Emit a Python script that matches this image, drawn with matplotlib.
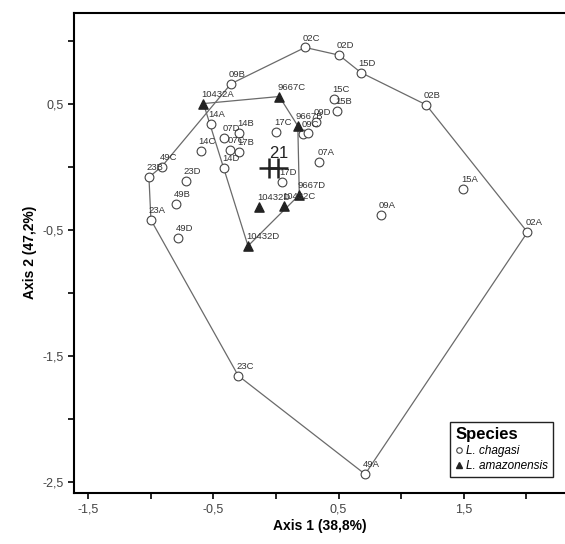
import matplotlib
matplotlib.use("Agg")
import matplotlib.pyplot as plt
import matplotlib.ticker as ticker
from matplotlib.lines import Line2D

plt.rcParams['font.family'] = ['Liberation Sans', 'DejaVu Sans']

# L. chagasi samples (axis 1, axis 2)
chag_names = ['02C', '02D', '15D', '02B', '02A', '49A', '23C', '23A', '23B', '49C',
              '09B', '15C', '15B', '09D', '09C', '', '17C', '14A', '07D', '14B',
              '07C', '17B', '14C', '14D', '07A', '17D', '23D', '49B', '49D', '09A', '15A']
chag_x = [0.232, 0.504, 0.678, 1.20, 2.01, 0.712, -0.302, -1.0, -1.016, -0.914,
          -0.36, 0.464, 0.488, 0.32, 0.218, 0.258, 0.0, -0.522, -0.414, -0.294,
          -0.368, -0.294, -0.602, -0.414, 0.346, 0.046, -0.722, -0.80, -0.782, 0.84, 1.498]
chag_y = [0.947, 0.886, 0.748, 0.492, -0.518, -2.437, -1.656, -0.421, -0.082, 0.002,
          0.659, 0.536, 0.444, 0.357, 0.26, 0.267, 0.275, 0.341, 0.228, 0.267,
          0.135, 0.121, 0.127, -0.01, 0.042, -0.117, -0.109, -0.294, -0.566, -0.381, -0.177]
chag_hull = ['02C', '02D', '15D', '02B', '02A', '49A', '23C', '23A', '23B', '49C', '09B']

# L. amazonensis samples
amaz_names = ['10432A', '9667C', '9667B', '9667D', '10432C', '10432D', '10432D']
amaz_x = [-0.58, 0.026, 0.174, 0.186, 0.066, -0.134, -0.224]
amaz_y = [0.502, 0.558, 0.325, -0.222, -0.31, -0.315, -0.627]
amaz_hull = [0, 1, 2, 3, 6]

# group centroids
cent_names = ['2', '1']
cent_x = [-0.054, 0.018]
cent_y = [-0.01, -0.01]

fig = plt.figure(figsize=(5.65, 5.44), dpi=100)
ax = fig.add_axes([0.131, 0.094, 0.869, 0.883])

# hulls
hx = [chag_x[chag_names.index(n)] for n in chag_hull]
hy = [chag_y[chag_names.index(n)] for n in chag_hull]
ax.plot(hx + hx[:1], hy + hy[:1], color='#6a6a6a', lw=0.9, zorder=1)
ax_ = [amaz_x[i] for i in amaz_hull]
ay_ = [amaz_y[i] for i in amaz_hull]
ax.plot(ax_ + ax_[:1], ay_ + ay_[:1], color='#6a6a6a', lw=0.9, zorder=1)

ax.scatter(chag_x, chag_y, s=40, marker='o', facecolors='white',
           edgecolors='#444444', linewidths=0.8, zorder=3)
ax.scatter(amaz_x, amaz_y, s=44, marker='^', color='#222222', zorder=3)
ax.plot(cent_x, cent_y, ls='none', marker='+', ms=14, mew=1.8, color='#222222', zorder=4)

for n, x, y in zip(chag_names + amaz_names, chag_x + amaz_x, chag_y + amaz_y):
    if n:
        ax.annotate(n, (x, y), xytext=(-1.5, 3.5), textcoords='offset points',
                    fontsize=6.8, color='#333333', ha='left', va='bottom')
for n, x, y in zip(cent_names, cent_x, cent_y):
    ax.annotate(n, (x, y), xytext=(0, 5), textcoords='offset points',
                fontsize=12, color='#222222', ha='left', va='bottom')

ax.set_xlim(-1.615, 2.31)
ax.set_ylim(-2.585, 1.224)
ax.xaxis.set_major_locator(ticker.FixedLocator([-1.5, -0.5, 0.5, 1.5]))
ax.xaxis.set_minor_locator(ticker.FixedLocator([-1, 0, 1, 2]))
ax.yaxis.set_major_locator(ticker.FixedLocator([-2.5, -1.5, -0.5, 0.5]))
ax.yaxis.set_minor_locator(ticker.FixedLocator([-2, -1, 0, 1]))
fmt = ticker.FuncFormatter(lambda v, p: ('%.1f' % v).replace('.', ','))
ax.xaxis.set_major_formatter(fmt)
ax.yaxis.set_major_formatter(fmt)
ax.tick_params(which='both', direction='out', length=4, width=1.2,
               labelsize=9, labelcolor='#444444')
for s in ['left', 'bottom', 'top']:
    ax.spines[s].set_linewidth(1.5)
ax.spines['right'].set_visible(False)

ax.set_xlabel('Axis 1 (38,8%)', fontsize=10, fontweight='bold', labelpad=3)
ax.set_ylabel('Axis 2 (47,2%)', fontsize=10, fontweight='bold', labelpad=4)

handles = [Line2D([], [], ls='none', marker='o', ms=4, mfc='white', mec='#444444', mew=0.8),
           Line2D([], [], ls='none', marker='^', ms=5, color='#222222')]
leg = ax.legend(handles, ['L. chagasi', 'L. amazonensis'], title='Species',
                loc='lower right', bbox_to_anchor=(0.988, 0.02),
                prop={'style': 'italic', 'size': 8.5}, handlelength=0.6,
                handletextpad=0.3, borderpad=0.45, labelspacing=0.25,
                fancybox=False, framealpha=1, edgecolor='#222222')
leg.get_title().set_fontweight('bold')
leg.get_title().set_fontsize(12)
leg._legend_box.align = 'left'
leg.get_frame().set_linewidth(1.0)

fig.savefig('out.png', dpi=100)
